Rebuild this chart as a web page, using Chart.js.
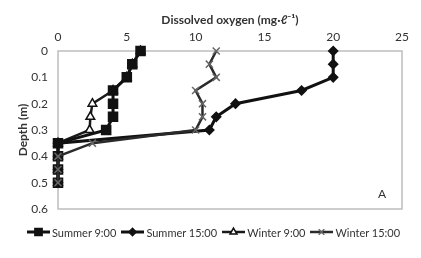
<!DOCTYPE html>
<html>
<head>
<meta charset="utf-8">
<script src="https://cdn.jsdelivr.net/npm/chart.js@4"></script>
<style>
  html, body { margin: 0; padding: 0; background: #fff; }
  #wrap { position: relative; width: 421px; height: 258px; }
  #legend_do { position: absolute; left: 27px; top: 225px; height: 14px; display: flex; align-items: center;
               font-family: Lato, sans-serif; font-size: 11px; color: #333; white-space: nowrap; }
  #legend_do .item { display: flex; align-items: center; margin-right: 5px; }
  #legend_do canvas { display: block; margin-right: 2px; }
</style>
</head>
<body>
<div id="wrap">
  <canvas id="chart_do" width="421" height="258"></canvas>
  <div id="legend_do"></div>
</div>
<script>
// depth profile data
var depths   = [0, 0.05, 0.1, 0.15, 0.2, 0.25, 0.3, 0.35, 0.4, 0.45, 0.5];
var summer9  = [6, 5.4, 5, 4, 4, 4, 3.5, 0, 0, 0, 0];
var summer15 = [20, 20, 20, 17.7, 12.9, 11.5, 11, 0, 0, 0, 0];
var winter9  = [6, 5.4, 5, 4, 2.5, 2.35, 2.3, 0, 0, 0, 0];
var winter15 = [11.5, 11, 11.5, 10, 10.5, 10.5, 10, 2.5, 0, 0, 0];
var seriesNames = ["Summer 9:00", "Summer 15:00", "Winter 9:00", "Winter 15:00"];
var xTicks = [0, 5, 10, 15, 20, 25];
var yTicks = [0, 0.1, 0.2, 0.3, 0.4, 0.5, 0.6];

var fontFam = "Lato, sans-serif";
var textCol = "#333";

function toPoints(xs) {
    return xs.map(function (x, i) { return { x: x, y: depths[i] }; });
}

// little line+marker image for the legend
function legendIcon(style, r, fill, stroke, lineCol, lw) {
    var c = document.createElement("canvas");
    c.width = 23; c.height = 14;
    var g = c.getContext("2d");
    g.strokeStyle = lineCol; g.lineWidth = lw;
    g.beginPath(); g.moveTo(0, 7); g.lineTo(23, 7); g.stroke();
    g.fillStyle = fill; g.strokeStyle = stroke; g.lineWidth = 1.5;
    Chart.helpers.drawPoint(g, { pointStyle: style, radius: r, borderWidth: 1.5 }, 11.5, 7);
    return c;
}

var styles = [
    { ps: "rect", r: 6.4, fill: "#111", stroke: "#111", line: "#111", lw: 3, order: 1 },
    { ps: "rectRot", r: 4.5, fill: "#111", stroke: "#111", line: "#111", lw: 3, order: 2 },
    { ps: "triangle", r: 5, fill: "#fff", stroke: "#111", line: "#1a1a1a", lw: 2.5, order: 3 },
    { ps: "crossRot", r: 5, fill: "#666", stroke: "#666", line: "#2a2a2a", lw: 2.5, order: 0 }
];
var values = [summer9, summer15, winter9, winter15];

var datasets = values.map(function (v, i) {
    var s = styles[i];
    return {
        label: seriesNames[i],
        data: toPoints(v),
        showLine: true,
        clip: false,
        borderColor: s.line,
        borderWidth: s.lw,
        pointStyle: s.ps,
        pointRadius: s.r,
        pointBackgroundColor: s.fill,
        pointBorderColor: s.stroke,
        pointBorderWidth: 1.5,
        order: s.order
    };
});

// frame around the plot and the panel letter
var framePlugin = {
    id: "frame",
    beforeDatasetsDraw: function (chart) {
        var a = chart.chartArea, g = chart.ctx;
        g.save();
        g.strokeStyle = "#bdbdbd"; g.lineWidth = 1.5;
        g.strokeRect(a.left, a.top, a.right - a.left, a.bottom - a.top);
        g.restore();
    },
    afterDraw: function (chart) {
        var g = chart.ctx;
        var px = chart.scales.x.getPixelForValue(23.55);
        var py = chart.scales.y.getPixelForValue(0.542);
        g.save();
        g.fillStyle = textCol;
        g.font = "12px " + fontFam;
        g.textAlign = "center"; g.textBaseline = "middle";
        g.fillText("A", px, py);
        g.restore();
    }
};

var ctxDO = document.getElementById("chart_do").getContext("2d");
var ChartDO = new Chart(ctxDO, {
    type: "scatter",
    data: { datasets: datasets },
    options: {
        responsive: false,
        animation: false,
        layout: { padding: { left: 0, right: 19, top: 2, bottom: 49 } },
        scales: {
            x: {
                position: "top",
                min: 0, max: 25,
                afterBuildTicks: function (s) { s.ticks = xTicks.map(function (v) { return { value: v }; }); },
                afterFit: function (s) { s.height = 49; },
                grid: { display: false, drawTicks: false },
                border: { display: false },
                ticks: { color: textCol, font: { size: 12, family: fontFam }, padding: 7, maxRotation: 0 },
                title: { display: true, text: "Dissolved oxygen (mg·ℓ⁻¹)", color: textCol,
                         font: { size: 12, weight: "bold", family: fontFam }, padding: { top: 11, bottom: 0 } }
            },
            y: {
                reverse: true,
                min: 0, max: 0.6,
                afterBuildTicks: function (s) { s.ticks = yTicks.map(function (v) { return { value: v }; }); },
                afterFit: function (s) { s.width = 58; },
                grid: { display: false, drawTicks: false },
                border: { display: false },
                ticks: { color: textCol, font: { size: 12, family: fontFam }, padding: 10,
                         callback: function (v) { return String(Math.round(v * 10) / 10); } },
                title: { display: true, text: "Depth (m)", color: textCol,
                         font: { size: 12, weight: "bold", family: fontFam }, padding: { top: 16, bottom: 0 } }
            }
        },
        plugins: {
            tooltip: { enabled: false },
            legend: { display: false }
        }
    },
    plugins: [framePlugin]
});

// legend below the plot, as html so the row does not wrap
var legendDiv = document.getElementById("legend_do");
styles.forEach(function (s, i) {
    var item = document.createElement("div");
    item.className = "item";
    item.appendChild(legendIcon(s.ps, s.r * 0.8, s.fill, s.stroke, s.line, s.lw));
    var txt = document.createElement("span");
    txt.textContent = seriesNames[i];
    item.appendChild(txt);
    legendDiv.appendChild(item);
});
</script>
</body>
</html>
